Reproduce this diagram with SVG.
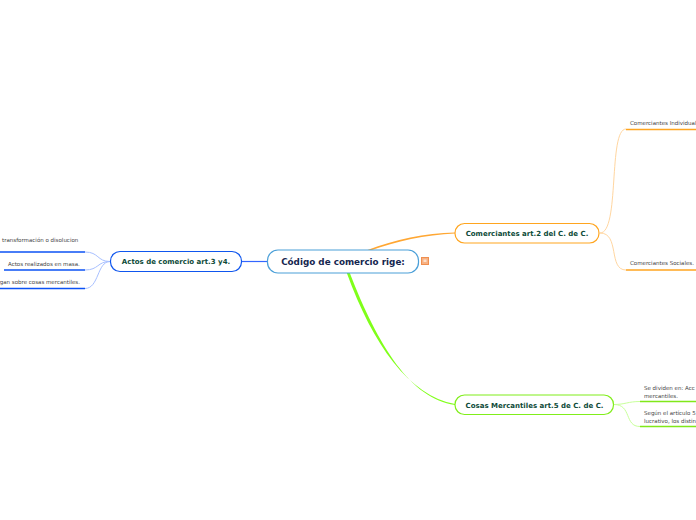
<svg xmlns="http://www.w3.org/2000/svg" width="696" height="520" viewBox="0 0 696 520">
<style>
text{font-family:"DejaVu Sans",Verdana,sans-serif}
.m{font-size:7px;font-weight:bold;fill:#0d4a38;text-anchor:middle}
.s{font-size:5.5px;fill:#444}
.box{fill:#fff;stroke-width:1.2}
</style>
<rect width="696" height="520" fill="#fff"/>
<g id="connectors">
<path d="M242 261.500H268" stroke="#3366ff" stroke-width="1.200" fill="none"/>
<path d="M367.500 250C395 239.500 425 233 455 232.400V233.600C425 235 396 241.500 370.500 250.500Z" fill="#ffa733"/>
<path d="M346.800 273C373 345 409 395.500 455 404V405C411 399 378 346 349.800 273Z" fill="#80ff1a"/>
<path d="M110 261.500C97 261.500 99 252 85 252" stroke="#a8c0ff" stroke-width="1" fill="none"/>
<path d="M110 261.500C97 261.500 99 270 85 270" stroke="#a8c0ff" stroke-width="1" fill="none"/>
<path d="M110 261.500C97 261.500 99 288.500 85 288.500" stroke="#a8c0ff" stroke-width="1" fill="none"/>
<path d="M0 252H85" stroke="#0b52f5" stroke-width="1.300" fill="none"/>
<path d="M4 270H85" stroke="#0b52f5" stroke-width="1.300" fill="none"/>
<path d="M0 288.500H85" stroke="#0b52f5" stroke-width="1.300" fill="none"/>
<path d="M600 233C620 233 608 129 626 129" stroke="#ffd6a0" stroke-width="1" fill="none"/>
<path d="M600 233C620 233 608 270 626 270" stroke="#ffd6a0" stroke-width="1" fill="none"/>
<path d="M626 129.500H696" stroke="#ffa51f" stroke-width="1.300" fill="none"/>
<path d="M626 270H696" stroke="#ffa51f" stroke-width="1.300" fill="none"/>
<path d="M614 404.500C625 404.500 628 401.500 640 401.500" stroke="#c8ff9a" stroke-width="1" fill="none"/>
<path d="M614 404.500C632 404.500 624 426.500 640 426.500" stroke="#c8ff9a" stroke-width="1" fill="none"/>
<path d="M640 401.500H696" stroke="#80e81a" stroke-width="1.300" fill="none"/>
<path d="M640 426.500H696" stroke="#80e81a" stroke-width="1.300" fill="none"/>
</g>
<g id="root">
<rect x="267.500" y="250" width="151" height="23" rx="10.500" fill="#fff" stroke="#4a9fd8" stroke-width="1.200"/>
<text x="343" y="265" text-anchor="middle" font-size="8.800" font-weight="bold" fill="#14264f">Código de comercio rige:</text>
</g>
<g id="note-icon">
<rect x="421.500" y="257.500" width="7" height="7" fill="#f7b183" stroke="#ef8f50"/>
<rect x="423.500" y="259.500" width="3" height="2.500" fill="#fbe0cc"/>
</g>
<g id="actos">
<rect class="box" x="110.500" y="251.500" width="131" height="20" rx="9.500" stroke="#0f56ee"/>
<text class="m" x="176" y="264">Actos de comercio art.3 y4.</text>
</g>
<g id="comerciantes">
<rect class="box" x="455" y="223.500" width="144" height="19.500" rx="9.500" stroke="#ffa51f"/>
<text class="m" x="527" y="236">Comerciantes art.2 del C. de C.</text>
</g>
<g id="cosas">
<rect class="box" x="455" y="395" width="158.500" height="19.500" rx="9.500" stroke="#80ee1a"/>
<text class="m" x="534.500" y="408">Cosas Mercantiles art.5 de C. de C.</text>
</g>
<g id="actos-1"><text class="s" x="2" y="242">transformación o disolucion</text></g>
<g id="actos-2"><text class="s" x="8" y="266">Actos realizados en masa.</text></g>
<g id="actos-3"><text class="s" x="80" y="284" text-anchor="end">gan sobre cosas mercantiles.</text></g>
<g id="com-1"><text class="s" x="630" y="125">Comerciantes Individual</text></g>
<g id="com-2"><text class="s" x="630" y="265">Comerciantes Sociales.</text></g>
<g id="cosas-1"><text class="s" x="644" y="390">Se dividen en: Acc</text><text class="s" x="644" y="397.500">mercantiles.</text></g>
<g id="cosas-2"><text class="s" x="644" y="415">Según el artículo 5</text><text class="s" x="644" y="422.500">lucrativo, los distin</text></g>
</svg>
